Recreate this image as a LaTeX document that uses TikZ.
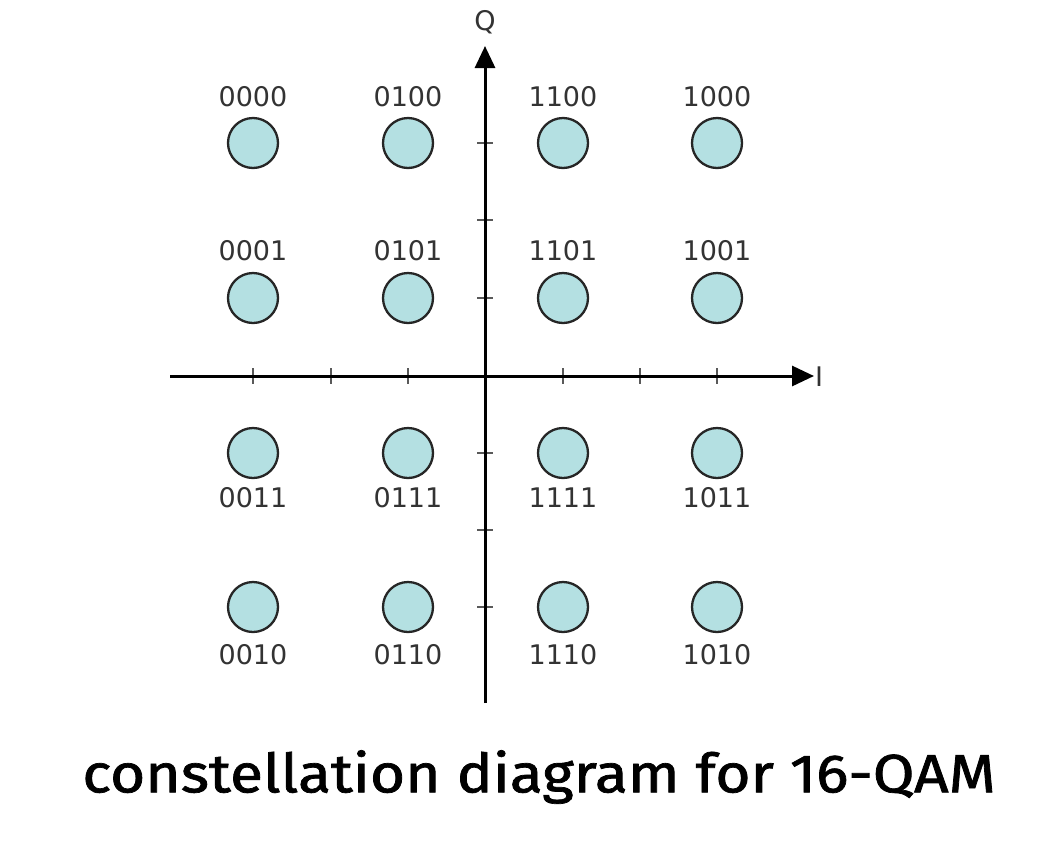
\documentclass[tikz,border=0pt]{standalone}
\usepackage{fontspec}
\setmainfont{DejaVu Sans}
\newfontfamily\capfont[FakeBold=1.3]{Fira Sans}
\usetikzlibrary{arrows.meta}
\definecolor{ptfill}{HTML}{B4E0E2}
\definecolor{txtgray}{HTML}{333333}
\begin{document}
\begin{tikzpicture}[x=1pt,y=-1pt,
  pt/.style={circle,draw=black!85,line width=2.3pt,fill=ptfill,minimum size=50pt,inner sep=0pt},
  lbl/.style={font=\fontsize{27}{27}\selectfont,text=txtgray,inner sep=0pt},
  axis/.style={line width=3pt,-{Triangle[length=22pt,width=20pt]}},
  tick/.style={line width=1.1pt,black!65}]
\useasboundingbox (0,0) rectangle (1044,852);
% axes
\coordinate (xs) at (170,376);
\coordinate (xe) at (814,376);
\coordinate (ys) at (485,703);
\coordinate (ye) at (485,46);
\foreach \x in {253,331,408,563,640,717}{
  \draw[tick] (\x,368) -- (\x,384);}
\foreach \y in {143,220,298,453,530,607}{
  \draw[tick] (477,\y) -- (493,\y);}
\draw[axis] (xs) -- (xe);
\draw[axis] (ys) -- (ye);
\node[lbl] (Q) at (485,22) {Q};
\node[lbl] (I) at (819,377) {I};
% points
\foreach \x/\a/\b/\c/\d in {253/0000/0001/0011/0010, 408/0100/0101/0111/0110, 563/1100/1101/1111/1110, 717/1000/1001/1011/1010}{
  \node[pt] (p\a) at (\x,143) {};
  \node[lbl] at (\x,97) {\a};
  \node[pt] (p\b) at (\x,298) {};
  \node[lbl] at (\x,251) {\b};
  \node[pt] (p\c) at (\x,453) {};
  \node[lbl] at (\x,498) {\c};
  \node[pt] (p\d) at (\x,607) {};
  \node[lbl] at (\x,655) {\d};
}
\node[font=\capfont\fontsize{54}{54}\selectfont,inner sep=0pt,xscale=1.12] (cap) at (539,777) {constellation diagram for 16-QAM};
\end{tikzpicture}
\end{document}
